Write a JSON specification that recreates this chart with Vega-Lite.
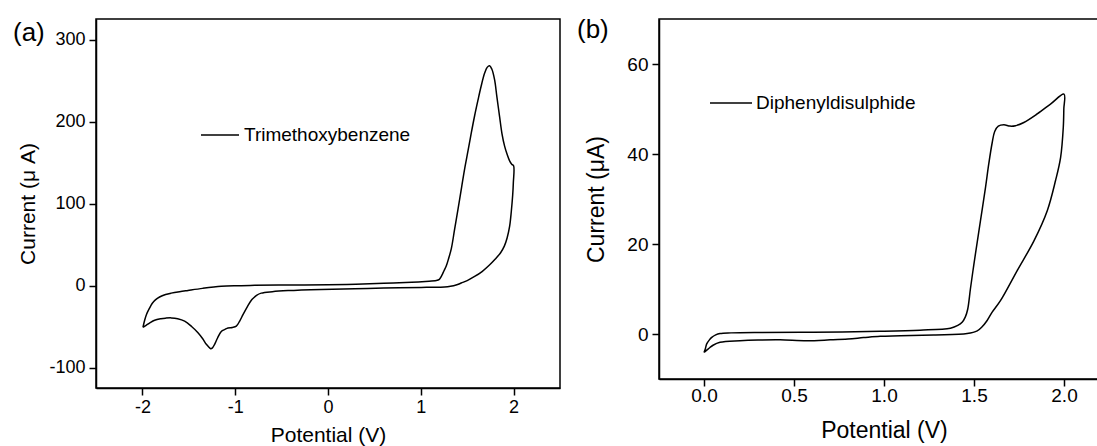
{
  "$schema": "https://vega.github.io/schema/vega-lite/v6.json",
  "background": "white",
  "padding": {"left": 12, "top": 16, "right": 0, "bottom": 0},
  "bounds": "flush",
  "spacing": 99,
  "config": {
    "font": "Liberation Sans",
    "view": {"stroke": "black", "strokeWidth": 1.5},
    "axis": {
      "grid": false,
      "domainColor": "black",
      "domainWidth": 1.5,
      "tickColor": "black",
      "tickWidth": 1.5,
      "tickSize": 7,
      "labelColor": "black",
      "titleColor": "black",
      "titleFontWeight": "normal",
      "labelFont": "Liberation Sans",
      "titleFont": "Liberation Sans",
      "labelExpr": "'' + datum.value"
    },
    "legend": {"labelFont": "Liberation Sans", "labelColor": "black", "labelLimit": 400},
    "title": {"font": "Liberation Sans", "fontWeight": "normal", "color": "black"}
  },
  "datasets": {
    "a": [
      {"i": 1, "v": -1.994, "c": -51},
      {"i": 2, "v": -1.975, "c": -42},
      {"i": 3, "v": -1.955, "c": -35},
      {"i": 4, "v": -1.925, "c": -28},
      {"i": 5, "v": -1.895, "c": -22},
      {"i": 6, "v": -1.86, "c": -17.5},
      {"i": 7, "v": -1.815, "c": -14},
      {"i": 8, "v": -1.75, "c": -11},
      {"i": 9, "v": -1.69, "c": -9.3},
      {"i": 10, "v": -1.6, "c": -7.5},
      {"i": 11, "v": -1.509, "c": -6},
      {"i": 12, "v": -1.35, "c": -3.5},
      {"i": 13, "v": -1.15, "c": -1},
      {"i": 14, "v": -1.0, "c": -0.2},
      {"i": 15, "v": -0.79, "c": 0.2},
      {"i": 16, "v": -0.4, "c": 0.6},
      {"i": 17, "v": 0.0, "c": 1.0},
      {"i": 18, "v": 0.3, "c": 1.6},
      {"i": 19, "v": 0.6, "c": 2.6},
      {"i": 20, "v": 0.9, "c": 4},
      {"i": 21, "v": 1.05, "c": 5},
      {"i": 22, "v": 1.167, "c": 6},
      {"i": 23, "v": 1.2, "c": 7.5},
      {"i": 24, "v": 1.225, "c": 12},
      {"i": 25, "v": 1.25, "c": 18},
      {"i": 26, "v": 1.275, "c": 24},
      {"i": 27, "v": 1.3, "c": 33},
      {"i": 28, "v": 1.329, "c": 45},
      {"i": 29, "v": 1.365, "c": 69},
      {"i": 30, "v": 1.401, "c": 93},
      {"i": 31, "v": 1.44, "c": 120},
      {"i": 32, "v": 1.472, "c": 142},
      {"i": 33, "v": 1.51, "c": 165},
      {"i": 34, "v": 1.544, "c": 186},
      {"i": 35, "v": 1.58, "c": 207},
      {"i": 36, "v": 1.616, "c": 226},
      {"i": 37, "v": 1.65, "c": 243},
      {"i": 38, "v": 1.688, "c": 259},
      {"i": 39, "v": 1.715, "c": 266},
      {"i": 40, "v": 1.741, "c": 268},
      {"i": 41, "v": 1.765, "c": 264},
      {"i": 42, "v": 1.795, "c": 251},
      {"i": 43, "v": 1.82, "c": 230},
      {"i": 44, "v": 1.849, "c": 206},
      {"i": 45, "v": 1.875, "c": 185},
      {"i": 46, "v": 1.903, "c": 170},
      {"i": 47, "v": 1.93, "c": 160},
      {"i": 48, "v": 1.957, "c": 152},
      {"i": 49, "v": 1.98, "c": 148},
      {"i": 50, "v": 2.0, "c": 146},
      {"i": 51, "v": 1.997, "c": 125},
      {"i": 52, "v": 1.99, "c": 110},
      {"i": 53, "v": 1.975, "c": 90},
      {"i": 54, "v": 1.957, "c": 72},
      {"i": 55, "v": 1.93, "c": 58},
      {"i": 56, "v": 1.9, "c": 48},
      {"i": 57, "v": 1.86, "c": 40},
      {"i": 58, "v": 1.8, "c": 32},
      {"i": 59, "v": 1.74, "c": 25},
      {"i": 60, "v": 1.66, "c": 17},
      {"i": 61, "v": 1.58, "c": 11},
      {"i": 62, "v": 1.5, "c": 6},
      {"i": 63, "v": 1.436, "c": 3},
      {"i": 64, "v": 1.38, "c": 0.5},
      {"i": 65, "v": 1.32, "c": -1},
      {"i": 66, "v": 1.256, "c": -1.8},
      {"i": 67, "v": 1.1, "c": -2.2},
      {"i": 68, "v": 1.005, "c": -2.4},
      {"i": 69, "v": 0.6, "c": -3.2},
      {"i": 70, "v": 0.287, "c": -4},
      {"i": 71, "v": -0.072, "c": -4.8},
      {"i": 72, "v": -0.431, "c": -6.2},
      {"i": 73, "v": -0.6, "c": -7.5},
      {"i": 74, "v": -0.719, "c": -9.3},
      {"i": 75, "v": -0.77, "c": -12},
      {"i": 76, "v": -0.8, "c": -15},
      {"i": 77, "v": -0.826, "c": -18},
      {"i": 78, "v": -0.87, "c": -26},
      {"i": 79, "v": -0.916, "c": -35.5},
      {"i": 80, "v": -0.95, "c": -43},
      {"i": 81, "v": -0.988, "c": -49.6},
      {"i": 82, "v": -1.03, "c": -51.2},
      {"i": 83, "v": -1.078, "c": -51.8},
      {"i": 84, "v": -1.11, "c": -53.5},
      {"i": 85, "v": -1.15, "c": -56},
      {"i": 86, "v": -1.19, "c": -64},
      {"i": 87, "v": -1.222, "c": -71.7},
      {"i": 88, "v": -1.245, "c": -76},
      {"i": 89, "v": -1.265, "c": -77},
      {"i": 90, "v": -1.285, "c": -75},
      {"i": 91, "v": -1.311, "c": -71.7},
      {"i": 92, "v": -1.35, "c": -65},
      {"i": 93, "v": -1.401, "c": -57.6},
      {"i": 94, "v": -1.47, "c": -50},
      {"i": 95, "v": -1.545, "c": -43.5},
      {"i": 96, "v": -1.62, "c": -40.5},
      {"i": 97, "v": -1.689, "c": -39.5},
      {"i": 98, "v": -1.75, "c": -39.8},
      {"i": 99, "v": -1.8, "c": -40.5},
      {"i": 100, "v": -1.868, "c": -42.3},
      {"i": 101, "v": -1.92, "c": -45.5},
      {"i": 102, "v": -1.96, "c": -48.5},
      {"i": 103, "v": -1.994, "c": -51}
    ],
    "b": [
      {"i": 1, "v": 0.0, "c": -4.1},
      {"i": 2, "v": 0.008, "c": -3.2},
      {"i": 3, "v": 0.015, "c": -2.2},
      {"i": 4, "v": 0.03, "c": -1.3},
      {"i": 5, "v": 0.043, "c": -0.75},
      {"i": 6, "v": 0.065, "c": -0.2},
      {"i": 7, "v": 0.089, "c": 0.1},
      {"i": 8, "v": 0.15, "c": 0.25},
      {"i": 9, "v": 0.3, "c": 0.35},
      {"i": 10, "v": 0.608, "c": 0.4},
      {"i": 11, "v": 0.979, "c": 0.6},
      {"i": 12, "v": 1.2, "c": 0.85},
      {"i": 13, "v": 1.369, "c": 1.3},
      {"i": 14, "v": 1.41, "c": 1.9},
      {"i": 15, "v": 1.434, "c": 2.6},
      {"i": 16, "v": 1.452, "c": 3.8},
      {"i": 17, "v": 1.465, "c": 5.5},
      {"i": 18, "v": 1.48, "c": 10},
      {"i": 19, "v": 1.494, "c": 14},
      {"i": 20, "v": 1.508, "c": 17.8},
      {"i": 21, "v": 1.536, "c": 25.2},
      {"i": 22, "v": 1.564, "c": 32.6},
      {"i": 23, "v": 1.582, "c": 37.8},
      {"i": 24, "v": 1.601, "c": 42.5},
      {"i": 25, "v": 1.615, "c": 45},
      {"i": 26, "v": 1.635, "c": 46.2},
      {"i": 27, "v": 1.666, "c": 46.5},
      {"i": 28, "v": 1.7, "c": 46.2},
      {"i": 29, "v": 1.731, "c": 46.3},
      {"i": 30, "v": 1.777, "c": 47},
      {"i": 31, "v": 1.851, "c": 48.9},
      {"i": 32, "v": 1.925, "c": 51.1},
      {"i": 33, "v": 2.0, "c": 53.3},
      {"i": 34, "v": 1.999, "c": 50},
      {"i": 35, "v": 1.996, "c": 45.9},
      {"i": 36, "v": 1.981, "c": 39.2},
      {"i": 37, "v": 1.953, "c": 34.1},
      {"i": 38, "v": 1.907, "c": 27.4},
      {"i": 39, "v": 1.833, "c": 20.7},
      {"i": 40, "v": 1.74, "c": 14.1},
      {"i": 41, "v": 1.647, "c": 7.4},
      {"i": 42, "v": 1.6, "c": 4.8},
      {"i": 43, "v": 1.573, "c": 3},
      {"i": 44, "v": 1.545, "c": 1.6},
      {"i": 45, "v": 1.518, "c": 0.7},
      {"i": 46, "v": 1.462, "c": 0.1},
      {"i": 47, "v": 1.276, "c": -0.2},
      {"i": 48, "v": 1.091, "c": -0.4},
      {"i": 49, "v": 0.979, "c": -0.5},
      {"i": 50, "v": 0.886, "c": -0.8},
      {"i": 51, "v": 0.8, "c": -1.1},
      {"i": 52, "v": 0.701, "c": -1.3},
      {"i": 53, "v": 0.571, "c": -1.5},
      {"i": 54, "v": 0.423, "c": -1.3},
      {"i": 55, "v": 0.3, "c": -1.35},
      {"i": 56, "v": 0.2, "c": -1.5},
      {"i": 57, "v": 0.089, "c": -1.85},
      {"i": 58, "v": 0.05, "c": -2.5},
      {"i": 59, "v": 0.033, "c": -3.0},
      {"i": 60, "v": 0.015, "c": -3.6},
      {"i": 61, "v": 0.0, "c": -4.1}
    ]
  },
  "hconcat": [
    {
      "width": 464,
      "height": 369,
      "title": {"text": "(a)", "anchor": "start", "frame": "group", "fontSize": 26, "dx": -83, "dy": 27, "offset": 0},
      "data": {"name": "a"},
      "mark": {"type": "line", "strokeWidth": 1.5, "interpolate": "catmull-rom"},
      "encoding": {
        "x": {
          "field": "v", "type": "quantitative",
          "scale": {"domain": [-2.5, 2.5], "nice": false, "zero": false},
          "axis": {"values": [-2, -1, 0, 1, 2], "title": "Potential (V)", "labelFontSize": 18, "titleFontSize": 21, "labelPadding": 3, "titlePadding": 8}
        },
        "y": {
          "field": "c", "type": "quantitative",
          "scale": {"domain": [-125, 325], "nice": false, "zero": false},
          "axis": {"values": [-100, 0, 100, 200, 300], "title": "Current (μ A)", "labelFontSize": 18, "titleFontSize": 21, "labelPadding": 4, "titlePadding": 10}
        },
        "order": {"field": "i", "type": "quantitative"},
        "color": {
          "datum": "Trimethoxybenzene",
          "scale": {"range": ["black"]},
          "legend": {"title": null, "orient": "none", "legendX": 104, "legendY": 96, "padding": 0, "symbolType": "stroke", "symbolSize": 1444, "symbolStrokeWidth": 1.5, "symbolStrokeColor": "black", "labelFontSize": 19, "labelOffset": 4}
        }
      }
    },
    {
      "width": 450,
      "height": 360,
      "title": {"text": "(b)", "anchor": "start", "frame": "group", "fontSize": 26, "dx": -82, "dy": 24, "offset": 0},
      "data": {"name": "b"},
      "mark": {"type": "line", "strokeWidth": 1.5, "interpolate": "catmull-rom"},
      "encoding": {
        "x": {
          "field": "v", "type": "quantitative",
          "scale": {"domain": [-0.25, 2.25], "nice": false, "zero": false},
          "axis": {"values": [0, 0.5, 1, 1.5, 2], "labelExpr": "format(datum.value, '.1f')", "title": "Potential (V)", "labelFontSize": 19, "titleFontSize": 23, "labelPadding": 0, "titlePadding": 14}
        },
        "y": {
          "field": "c", "type": "quantitative",
          "scale": {"domain": [-10, 70], "nice": false, "zero": false},
          "axis": {"values": [0, 20, 40, 60], "title": "Current (μA)", "labelFontSize": 19, "titleFontSize": 23, "labelPadding": 4, "titlePadding": 18}
        },
        "order": {"field": "i", "type": "quantitative"},
        "color": {
          "datum": "Diphenyldisulphide",
          "scale": {"range": ["black"]},
          "legend": {"title": null, "orient": "none", "legendX": 50, "legendY": 62, "padding": 0, "symbolType": "stroke", "symbolSize": 1764, "symbolStrokeWidth": 1.5, "symbolStrokeColor": "black", "labelFontSize": 19, "labelOffset": 3}
        }
      }
    }
  ],
  "resolve": {"scale": {"color": "independent"}, "legend": {"color": "independent"}}
}
